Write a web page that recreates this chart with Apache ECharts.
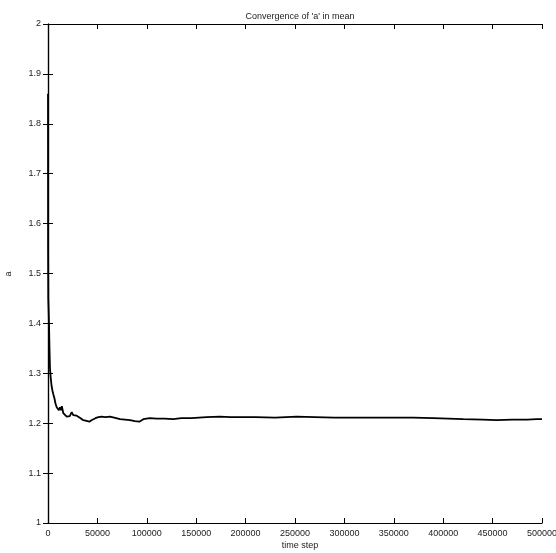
<!DOCTYPE html>
<html>
<head>
<meta charset="utf-8">
<script src="https://cdn.jsdelivr.net/npm/echarts@6/dist/echarts.min.js"></script>
<style>html,body{margin:0;padding:0;background:#fff;}#c{width:556px;height:553px;}</style>
</head>
<body>
<div id="c"></div>
<script>
const titleText = "Convergence of 'a' in mean";
const xAxisTitle = "time step";
const yAxisTitle = "a";
const timeSteps = [0,100,300,600,1000,1500,2000,2800,3600,4500,5400,6500,7500,8800,10000,11000,12100,13000,14000,15500,17000,18900,20500,22000,24000,25500,27300,29000,31000,33000,35700,38000,40000,41800,44000,45900,48000,51000,54300,58000,62700,67000,72900,78000,83000,88000,92400,96500,103000,110000,118000,126800,135000,145000,160600,174000,185000,194300,210000,230000,251700,270000,290000,319100,340000,369700,390000,420300,440000,454100,470000,485000,494600,500000];
const aValues = [1.86,1.55,1.45,1.43,1.40,1.35,1.31,1.29,1.275,1.265,1.258,1.25,1.24,1.232,1.236,1.226,1.232,1.226,1.234,1.220,1.216,1.213,1.216,1.214,1.222,1.216,1.212,1.215,1.214,1.210,1.206,1.205,1.204,1.203,1.206,1.208,1.210,1.212,1.213,1.212,1.213,1.211,1.208,1.207,1.206,1.204,1.203,1.208,1.210,1.209,1.209,1.208,1.210,1.210,1.212,1.213,1.212,1.212,1.212,1.211,1.213,1.212,1.211,1.211,1.211,1.211,1.210,1.208,1.207,1.206,1.207,1.207,1.208,1.208];

const seriesData = timeSteps.map((t, i) => [t, aValues[i]]);
const font = 'Liberation Sans, Arial, sans-serif';
const lab = {fontFamily: font, fontSize: 9, color: '#222'};
const axLine = {show: true, lineStyle: {color: '#000', width: 1.2}};
const tick = {show: true, inside: true, length: 5, lineStyle: {color: '#000', width: 1}};

const chart = echarts.init(document.getElementById('c'), null, {renderer: 'canvas'});
chart.setOption({
  backgroundColor: '#fff',
  animation: false,
  title: [
    {text: titleText, left: 295, textAlign: 'center', top: 7, textStyle: {fontFamily: font, fontSize: 9, fontWeight: 'normal', color: '#222'}},
    {text: xAxisTitle, left: 295, textAlign: 'center', top: 536, textStyle: {fontFamily: font, fontSize: 9, fontWeight: 'normal', color: '#222'}}
  ],
  graphic: [{type: 'text', x: 9, y: 274, rotation: Math.PI/2, style: {text: yAxisTitle, font: '9px ' + font, fill: '#222', textAlign: 'center', textVerticalAlign: 'middle'}}],
  grid: {left: 48, right: 14, top: 24, bottom: 30, outerBoundsMode: 'none', containLabel: false},
  xAxis: [
    {type: 'value', min: 0, max: 500000, interval: 50000, axisLine: axLine, axisTick: tick, splitLine: {show: false}, axisLabel: Object.assign({margin: 6, showMaxLabel: true, hideOverlap: false, formatter: v => String(v)}, lab)},
    {type: 'value', position: 'top', min: 0, max: 500000, interval: 50000, axisLine: axLine, axisTick: tick, splitLine: {show: false}, axisLabel: {show: false}}
  ],
  yAxis: [
    {type: 'value', min: 1, max: 2, interval: 0.1, axisLine: axLine, axisTick: tick, splitLine: {show: false}, axisLabel: Object.assign({margin: 7, formatter: v => String(+v.toFixed(1))}, lab)},
    {type: 'value', position: 'right', min: 1, max: 2, interval: 0.1, axisLine: axLine, axisTick: tick, splitLine: {show: false}, axisLabel: {show: false}}
  ],
  series: [{type: 'line', data: seriesData, showSymbol: false, lineStyle: {color: '#000', width: 1.8}, xAxisIndex: 0, yAxisIndex: 0}]
});
</script>
</body>
</html>
